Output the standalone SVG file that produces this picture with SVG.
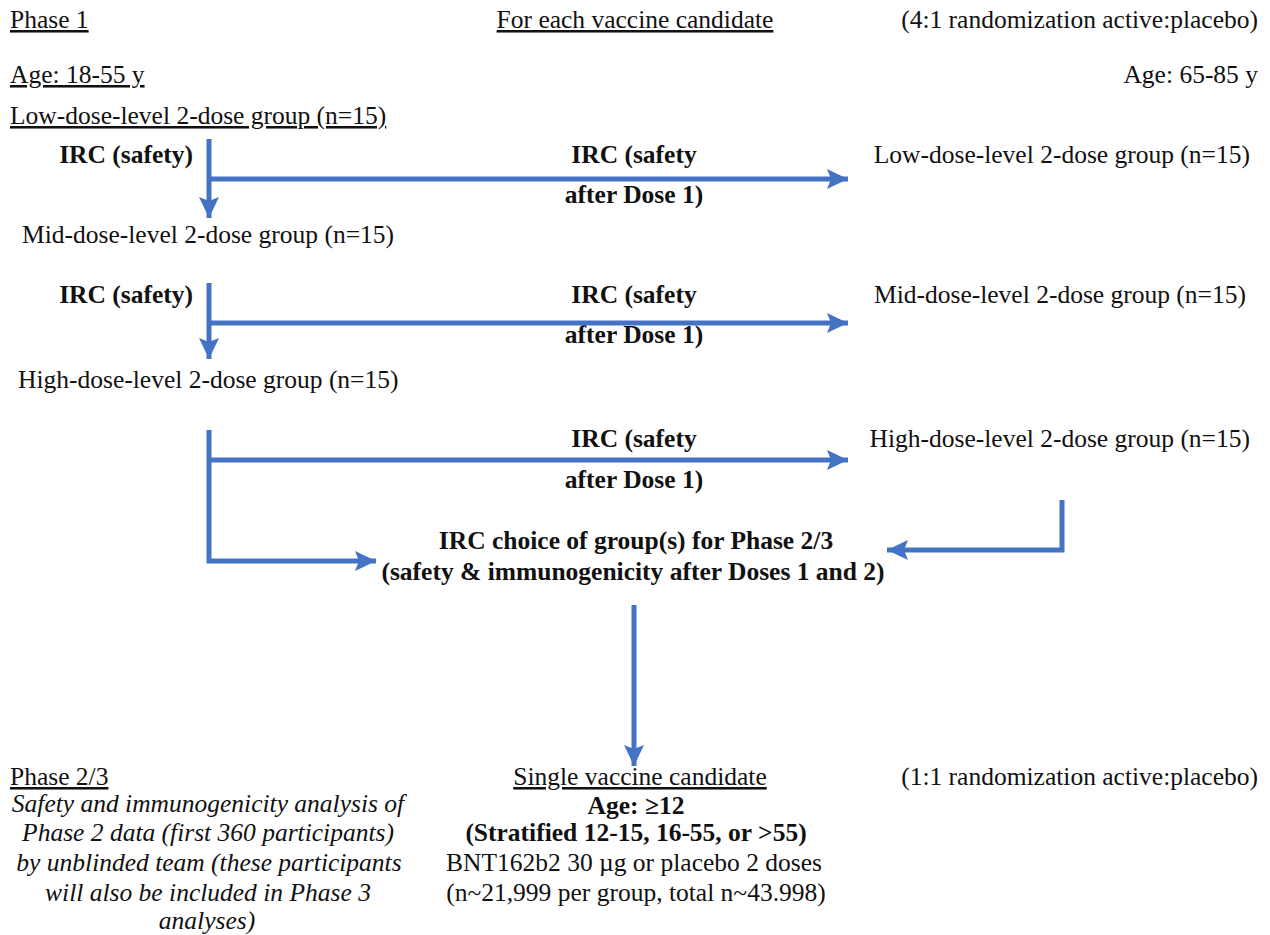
<svg xmlns="http://www.w3.org/2000/svg" width="1270" height="935" viewBox="0 0 1270 935">
<defs>
<style>
text{font-family:'Liberation Serif','Times New Roman','DejaVu Serif',serif;font-size:25.5px;fill:#111;}
.b{font-weight:bold;}
.i{font-style:italic;}
.u{text-decoration:underline;}
.m{text-anchor:middle;}
.e{text-anchor:end;}
.c{fill:none;stroke:#4472C4;stroke-width:5;}
</style>
<marker id="ah" markerUnits="userSpaceOnUse" markerWidth="22" markerHeight="22" viewBox="0 0 22 22" refX="21" refY="11" orient="auto">
<path d="M0,1 L21,11 L0,21 L4,11 z" fill="#4472C4"/>
</marker>
</defs>
<rect width="1270" height="935" fill="#fff"/>
<g id="headers">
<text x="10" y="28" class="u">Phase 1</text>
<text x="635" y="28" class="m u">For each vaccine candidate</text>
<text x="1258" y="28" class="e">(4:1 randomization active:placebo)</text>
<text x="10" y="83" class="u">Age: 18-55 y</text>
<text x="1258" y="83" class="e">Age: 65-85 y</text>
</g>
<g id="low-young"><text x="10" y="124" class="u">Low-dose-level 2-dose group (n=15)</text></g>
<g id="irc1"><text x="193" y="163" class="b e">IRC (safety)</text></g>
<g id="irc1r"><text x="634" y="163" class="b m">IRC (safety</text><text x="634" y="203" class="b m">after Dose 1)</text></g>
<g id="low-old"><text x="1250" y="163" class="e">Low-dose-level 2-dose group (n=15)</text></g>
<g id="mid-young"><text x="22" y="243">Mid-dose-level 2-dose group (n=15)</text></g>
<g id="irc2"><text x="193" y="303" class="b e">IRC (safety)</text></g>
<g id="irc2r"><text x="634" y="303" class="b m">IRC (safety</text><text x="634" y="343" class="b m">after Dose 1)</text></g>
<g id="mid-old"><text x="1246" y="303" class="e">Mid-dose-level 2-dose group (n=15)</text></g>
<g id="high-young"><text x="18" y="388">High-dose-level 2-dose group (n=15)</text></g>
<g id="irc3r"><text x="634" y="447" class="b m">IRC (safety</text><text x="634" y="488" class="b m">after Dose 1)</text></g>
<g id="high-old"><text x="1250" y="447" class="e">High-dose-level 2-dose group (n=15)</text></g>
<g id="choice"><text x="636" y="549" class="b m">IRC choice of group(s) for Phase 2/3</text><text x="633" y="580" class="b m">(safety &amp; immunogenicity after Doses 1 and 2)</text></g>
<g id="phase23">
<text x="10" y="785" class="u">Phase 2/3</text>
<text x="208" y="812" class="i m">Safety and immunogenicity analysis of</text>
<text x="208" y="841" class="i m">Phase 2 data (first 360 participants)</text>
<text x="209" y="871" class="i m">by unblinded team (these participants</text>
<text x="208" y="901" class="i m">will also be included in Phase 3</text>
<text x="207" y="929" class="i m">analyses)</text>
</g>
<g id="single">
<text x="640" y="785" class="m u">Single vaccine candidate</text>
<text x="636" y="814" class="b m">Age: ≥12</text>
<text x="636" y="841" class="b m">(Stratified 12-15, 16-55, or &gt;55)</text>
<text x="634" y="871" class="m">BNT162b2 30 µg or placebo 2 doses</text>
<text x="636" y="901" class="m">(n~21,999 per group, total n~43.998)</text>
</g>
<g id="rand2"><text x="1258" y="785" class="e">(1:1 randomization active:placebo)</text></g>
<g id="connectors">
<path class="c" d="M209,139 V218" marker-end="url(#ah)"/>
<path class="c" d="M209,179 H848" marker-end="url(#ah)"/>
<path class="c" d="M209,283 V359" marker-end="url(#ah)"/>
<path class="c" d="M209,323 H848" marker-end="url(#ah)"/>
<path class="c" d="M209,430 V561 H376" marker-end="url(#ah)"/>
<path class="c" d="M209,460 H848" marker-end="url(#ah)"/>
<path class="c" d="M1062,500 V550 H887" marker-end="url(#ah)"/>
<path class="c" d="M634,605 V766" marker-end="url(#ah)"/>
</g>
</svg>
